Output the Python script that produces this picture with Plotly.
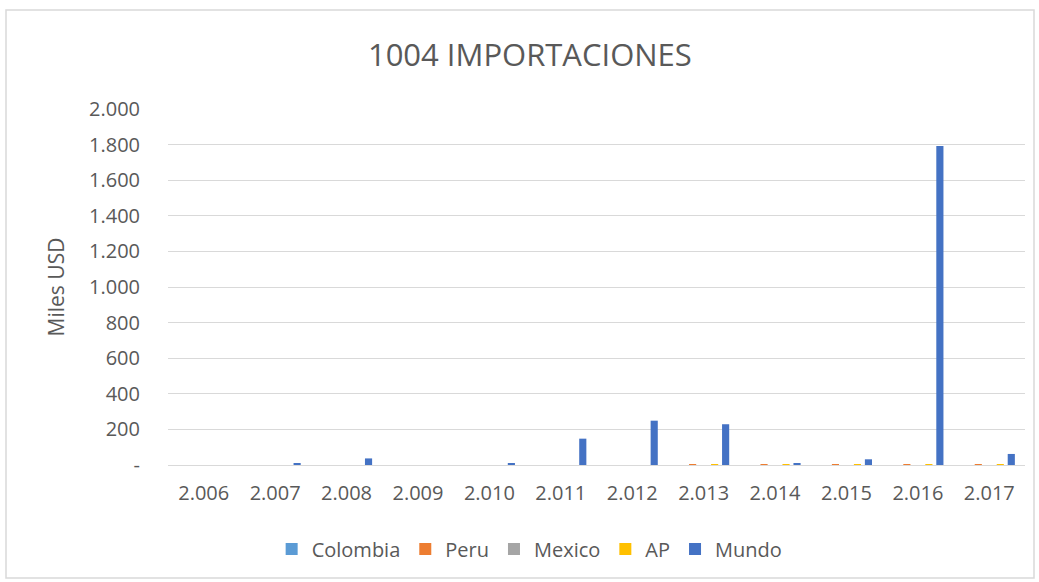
import plotly.graph_objects as go

years = ["2.006", "2.007", "2.008", "2.009", "2.010", "2.011",
         "2.012", "2.013", "2.014", "2.015", "2.016", "2.017"]
colombia = [0, 0, 0, 0, 0, 0, 0, 0, 0, 0, 0, 0]
peru = [0, 0, 0, 0, 0, 0, 0, 5, 5, 5, 5, 5]
mexico = [0, 0, 0, 0, 0, 0, 0, 0, 0, 0, 0, 0]
ap = [0, 0, 0, 0, 0, 0, 0, 5, 5, 5, 5, 5]
mundo = [0, 8, 37, 0, 8, 148, 249, 229, 8, 32, 1792, 62]

series = [
    ("Colombia", colombia, "#5B9BD5"),
    ("Peru", peru, "#ED7D31"),
    ("Mexico", mexico, "#A5A5A5"),
    ("AP", ap, "#FFC000"),
    ("Mundo", mundo, "#4472C4"),
]

fig = go.Figure()
for name, vals, color in series:
    fig.add_trace(go.Bar(x=years, y=vals, name=name, marker_color=color,
                         marker_line_width=0))

grey = "#595959"
fig.update_layout(
    width=1039, height=582,
    paper_bgcolor="white", plot_bgcolor="white",
    margin=dict(l=168, r=14, t=109, b=117),
    barmode="group", bargap=0.23, bargroupgap=0.35,
    separators=",.",
    font=dict(family="Open Sans, sans-serif", color=grey, size=20),
    title=dict(text="1004 IMPORTACIONES", x=0.51, xanchor="center",
               y=1 - 55 / 582, yanchor="middle",
               font=dict(size=31, color=grey)),
    legend=dict(orientation="h", x=0.422, xanchor="center", y=-0.236,
                yanchor="middle", font=dict(size=20, color=grey),
                itemwidth=30, traceorder="normal"),
    xaxis=dict(type="category", showgrid=False, showline=True,
               linecolor="#D9D9D9", linewidth=1, ticks="",
               tickfont=dict(size=20, color=grey), ticklabelstandoff=10),
    yaxis=dict(range=[0, 2000], tickvals=[0, 200, 400, 600, 800, 1000, 1200,
                                           1400, 1600, 1800, 2000],
               ticktext=["-", "200", "400", "600", "800", "1.000", "1.200",
                         "1.400", "1.600", "1.800", "2.000"],
               showgrid=True, gridcolor="#D9D9D9", gridwidth=1,
               zeroline=False, showline=False, ticks="",
               tickfont=dict(size=20, color=grey), ticklabelstandoff=27,
               title=dict(text="Miles USD", font=dict(size=21, color=grey),
                          standoff=18)),
    shapes=[dict(type="rect", xref="paper", yref="paper",
                 x0=(6 - 168) / 857, x1=(1034 - 168) / 857,
                 y0=(465 - 578) / 356, y1=(465 - 10) / 356,
                 line=dict(color="#D9D9D9", width=1.5), layer="below")],
)

fig.write_html("out.html", config={"displayModeBar": False},
               post_script="document.body.style.margin='0';")
